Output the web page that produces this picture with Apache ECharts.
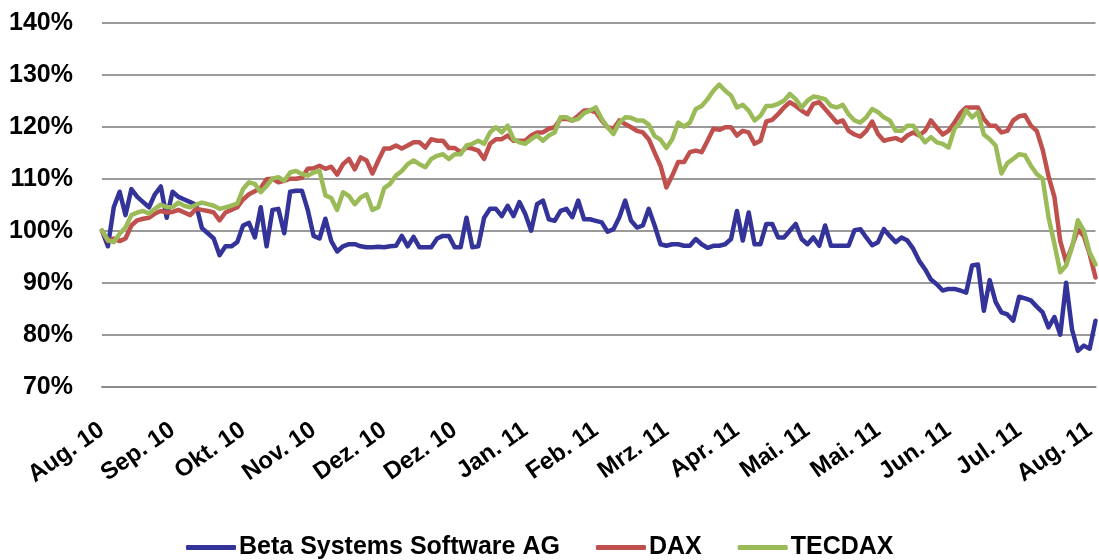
<!DOCTYPE html>
<html>
<head>
<meta charset="utf-8">
<title>Beta Systems vs DAX / TECDAX</title>
<script src="https://cdn.jsdelivr.net/npm/echarts@6/dist/echarts.min.js"></script>
<style>
    html, body { margin: 0; padding: 0; background: #fff; }
    #main { width: 1099px; height: 560px; }
</style>
</head>
<body>
<div id="main"></div>
<script>
// Monatsbeschriftung, eine alle 12 Punkte
var months = ['Aug. 10', 'Sep. 10', 'Okt. 10', 'Nov. 10', 'Dez. 10', 'Dez. 10', 'Jan. 11', 'Feb. 11',
    'Mrz. 11', 'Apr. 11', 'Mai. 11', 'Mai. 11', 'Jun. 11', 'Jul. 11', 'Aug. 11'];
var labelStep = 12;

var yTicks = [70, 80, 90, 100, 110, 120, 130, 140];

// Kursverlauf in % (Start = 100%)
var beta = [
    100, 97, 104.5, 107.5, 103, 108, 106.5, 105.5, 104.5, 107,
    108.5, 102.5, 107.5, 106.5, 106, 105.5, 105, 100.5, 99.5, 98.5,
    95.3, 97, 97, 97.8, 101, 101.5, 98.7, 104.5, 97, 104,
    104.2, 99.5, 107.5, 107.7, 107.7, 104, 99, 98.5, 102.3, 98,
    96, 97, 97.4, 97.4, 97, 96.8, 96.8, 96.9, 96.8, 97,
    97.1, 99, 97, 98.8, 96.8, 96.8, 96.8, 98.5, 99, 99,
    96.8, 96.8, 102.5, 96.8, 97, 102.5, 104.2, 104.2, 102.8, 104.8,
    102.8, 105.5, 103.2, 100, 105.1, 105.8, 102.2, 101.9, 103.8, 104.2,
    102.6, 105.8, 102.2, 102.2, 101.9, 101.6, 99.8, 100.3, 102.6, 105.8,
    101.9, 100.6, 101, 104.2, 101, 97.4, 97.1, 97.4, 97.4, 97.1,
    97.1, 98.4, 97.4, 96.7, 97.1, 97.1, 97.4, 98.4, 103.8, 98.1,
    103.5, 97.4, 97.4, 101.3, 101.3, 98.7, 98.7, 100, 101.3, 98.4,
    97.4, 98.7, 97.1, 101, 97.1, 97.1, 97.1, 97.1, 100.1, 100.3,
    98.7, 97.2, 97.8, 100.3, 99, 97.8, 98.7, 98.1, 96.5, 94.2,
    92.6, 90.6, 89.7, 88.5, 88.8, 88.8, 88.5, 88.1, 93.3, 93.5,
    84.6, 90.5, 86.3, 84.3, 83.9, 82.7, 87.3, 87, 86.6, 85.4,
    84.3, 81.4, 83.4, 80, 90, 81, 76.9, 77.9, 77.3, 82.7
];
var dax = [
    100, 98, 98.5, 98, 98.5, 101, 102, 102.3, 102.5, 103.3,
    103.8, 103.5, 103.6, 104, 103.5, 103, 104.2, 104, 103.8, 103.5,
    102, 103.5, 104, 104.5, 106, 107, 107.6, 108.2, 109.9, 110,
    109.3, 109.6, 110, 110, 110.2, 111.9, 112, 112.5, 111.9, 112.3,
    110.8, 112.8, 113.8, 111.8, 114.1, 113.5, 111, 113.5, 115.8, 115.8,
    116.4, 115.8, 116.4, 117, 117, 116, 117.6, 117.3, 117.3, 115.9,
    115.9, 115.1, 116, 115.8, 115.4, 113.8, 116.7, 117.6, 117.6, 118.3,
    117.3, 117.3, 117.3, 118.3, 118.9, 118.9, 119.6, 119.9, 121.5, 121.5,
    121.2, 122.1, 123.1, 123.1, 122.8, 121.2, 119.9, 119.6, 121.2, 120.5,
    119.9, 119.2, 118.9, 117.6, 115, 112.5, 108.3, 110.6, 113.2, 113.2,
    115.1, 115.4, 115.1, 117.3, 119.6, 119.4, 119.9, 119.9, 118.3, 119.2,
    118.9, 116.7, 117.3, 121, 121.3, 122.4, 123.7, 124.7, 124, 123.1,
    122.4, 124.4, 124.7, 123.4, 122.1, 120.8, 121.2, 119.2, 118.5, 118.1,
    119.2, 121, 118.6, 117.3, 117.6, 117.8, 117.3, 118.3, 118.9, 118.3,
    119.2, 121.2, 119.8, 118.5, 119.2, 120.8, 122.6, 123.7, 123.7, 123.7,
    121.5, 120.2, 120.2, 118.9, 119.2, 121.2, 122, 122.2, 120.2, 119.2,
    115.6, 110.5, 106.5, 98, 94, 97, 100.2, 99, 95.5, 91
];
var tecdax = [
    100, 98.2, 97.8, 99.4, 100.6, 103, 103.5, 103.8, 103.3, 104.2,
    105, 104.5, 104.5, 105.4, 104.8, 104.5, 105, 105.4, 105.1, 104.8,
    104.2, 104.5, 104.8, 105.2, 108, 109.3, 109, 107.4, 108.6, 110,
    110.3, 109.6, 111.2, 111.5, 110.9, 110.6, 111.2, 111.5, 106.8, 106.3,
    104, 107.4, 106.7, 105.1, 106.4, 107, 104, 104.5, 108.2, 109,
    110.6, 111.5, 112.8, 113.5, 112.8, 112.2, 113.8, 114.4, 114.7, 113.8,
    114.7, 114.7, 116.4, 116.7, 117.3, 116.7, 118.9, 119.9, 118.9, 120.2,
    117.6, 117, 116.7, 117.6, 118.3, 117.3, 118.3, 118.9, 121.8, 121.8,
    121.2, 121.5, 122.6, 123.1, 123.7, 121.5, 119.9, 118.6, 120.8, 121.8,
    121.7, 121.2, 121.2, 120.4, 118.2, 117.5, 115.9, 117.6, 120.8, 120,
    120.8, 123.4, 124, 125.3, 126.9, 128.1, 126.9, 126, 123.7, 124.2,
    123.1, 121.2, 122.1, 124, 124, 124.4, 125, 126.3, 125.3, 123.7,
    125, 125.8, 125.6, 125.3, 124, 123.7, 124.2, 122.4, 121.2, 120.8,
    121.8, 123.4, 122.8, 121.8, 121.2, 119.2, 119.2, 120.2, 120.2, 118.5,
    117, 118, 117, 116.7, 116, 119.6, 120.8, 123.2, 121.8, 122.8,
    118.5, 117.6, 116.4, 111, 113, 113.8, 114.7, 114.5, 112.5, 110.9,
    110, 102.6, 97.5, 92, 93.3, 96.8, 102, 100, 95.8, 93.5
];

(function (win) {
    var font = 'Liberation Sans, Arial, sans-serif';

    // Kategorien: nur jeder 12. Punkt bekommt einen Monatsnamen
    var categories = [];
    for (var i = 0; i < beta.length; i++) {
        categories.push(i % labelStep === 0 ? (months[i / labelStep] || '') : '');
    }

    function lineSeries(name, data, color) {
        return {
            name: name,
            type: 'line',
            data: data,
            symbol: 'none',
            color: color,
            lineStyle: { width: 4.5, color: color, join: 'round', cap: 'round' }
        };
    }

    var chart = echarts.init(document.getElementById('main'));
    chart.setOption({
        animation: false,
        grid: { left: 102, right: 2, top: 22.7, bottom: 173.3, containLabel: false },
        legend: {
            left: 181,
            top: 530,
            icon: 'roundRect',
            itemWidth: 50,
            itemHeight: 5,
            itemGap: 36,
            textStyle: { fontFamily: font, fontWeight: 'bold', fontSize: 25, color: '#000', padding: [0, 0, 0, -2] },
            data: ['Beta Systems Software AG', 'DAX', 'TECDAX']
        },
        xAxis: {
            type: 'category',
            boundaryGap: false,
            data: categories,
            axisLine: { lineStyle: { color: '#8c8c8c', width: 2 } },
            axisTick: { show: false },
            axisLabel: {
                interval: labelStep - 1,
                rotate: 35,
                margin: 41,
                fontFamily: font,
                fontWeight: 'bold',
                fontSize: 24,
                color: '#000'
            }
        },
        yAxis: {
            type: 'value',
            min: yTicks[0],
            max: yTicks[yTicks.length - 1],
            interval: 10,
            axisLine: { show: false },
            axisTick: { show: false },
            splitLine: { lineStyle: { color: '#9a9a9a', width: 2 } },
            axisLabel: {
                formatter: '{value}%',
                margin: 29,
                fontFamily: font,
                fontWeight: 'bold',
                fontSize: 25,
                color: '#000'
            }
        },
        series: [
            lineSeries('Beta Systems Software AG', beta, '#333399'),
            lineSeries('DAX', dax, '#c0504d'),
            lineSeries('TECDAX', tecdax, '#9bbb59')
        ]
    });
})(window);
</script>
</body>
</html>
